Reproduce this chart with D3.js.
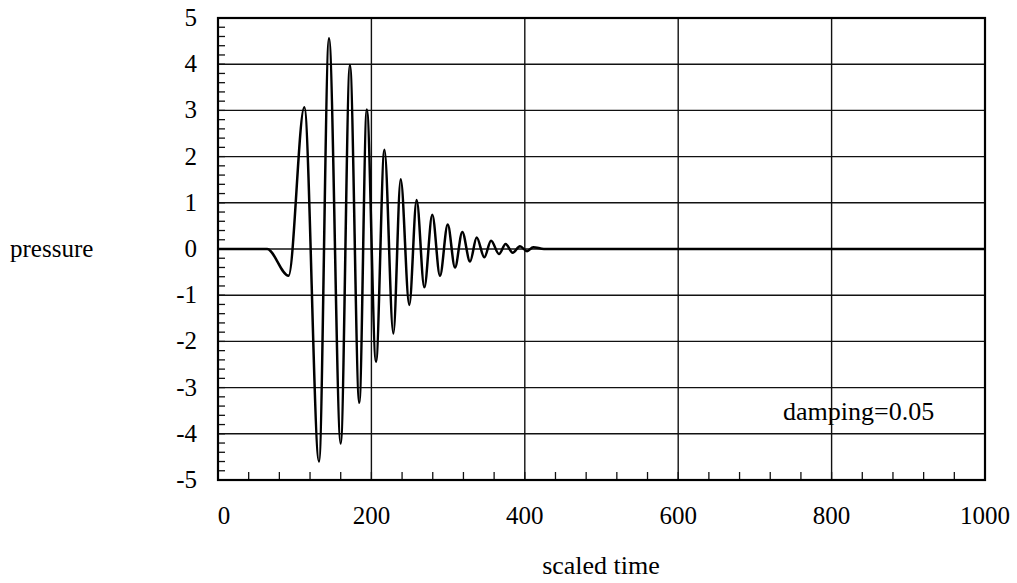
<!DOCTYPE html>
<html>
<head>
<meta charset="utf-8">
<script src="https://cdn.jsdelivr.net/npm/d3@7"></script>
<style>
  body { margin: 0; background: #fff; }
  text { font-family: "Liberation Serif", "Times New Roman", serif; fill: #000; }
</style>
</head>
<body>
<div id="chart"></div>
<script>
// values (extrema of the pressure trace)
var timeVals = [0, 64, 92, 112.5, 131.7, 144.7, 160, 172, 184.2, 194, 206, 217, 228.6, 238.2, 249.4,
  259, 269, 279.4, 289.4, 299.5, 309, 318.5, 328.6, 337.3, 347.2, 356, 366.4, 375, 384.2, 393.7, 403, 411, 425, 1000];
var pressureVals = [0, 0, -0.58, 3.07, -4.6, 4.56, -4.21, 3.98, -3.33, 3.02, -2.44, 2.15, -1.83, 1.51, -1.21,
  1.06, -0.83, 0.74, -0.58, 0.53, -0.40, 0.37, -0.27, 0.25, -0.18, 0.18, -0.11, 0.11, -0.08, 0.06, -0.05, 0.04, 0, 0];
var xTicks = [0, 200, 400, 600, 800, 1000];
var yTicks = [5, 4, 3, 2, 1, 0, -1, -2, -3, -4, -5];
var note = "damping=0.05";

var W = 1017, H = 583;
var m = {left: 218, right: 32, top: 18, bottom: 103};

var svg = d3.select("#chart").append("svg")
  .attr("width", W).attr("height", H);

var x = d3.scaleLinear().domain([0, 1000]).range([m.left, W - m.right]);
var y = d3.scaleLinear().domain([-5, 5]).range([H - m.bottom, m.top]);

// grid lines
svg.append("g").selectAll("line").data(yTicks).enter().append("line")
  .attr("x1", x(0)).attr("x2", x(1000))
  .attr("y1", function(d){ return y(d); }).attr("y2", function(d){ return y(d); })
  .style("stroke", "#111").style("stroke-width", 1.4);
svg.append("g").selectAll("line").data(xTicks).enter().append("line")
  .attr("y1", y(-5)).attr("y2", y(5))
  .attr("x1", function(d){ return x(d); }).attr("x2", function(d){ return x(d); })
  .style("stroke", "#111").style("stroke-width", 1.4);

// minor ticks, left and bottom, pointing in
var yMinor = d3.range(-50, 51, 2).map(function(v){ return v / 10; });
svg.append("g").selectAll("line").data(yMinor).enter().append("line")
  .attr("x1", x(0)).attr("x2", x(0) + 7)
  .attr("y1", function(d){ return y(d); }).attr("y2", function(d){ return y(d); })
  .style("stroke", "#111").style("stroke-width", 1.3);
var xMinor = d3.range(0, 1001, 40);
svg.append("g").selectAll("line").data(xMinor).enter().append("line")
  .attr("y1", y(-5)).attr("y2", y(-5) - 8)
  .attr("x1", function(d){ return x(d); }).attr("x2", function(d){ return x(d); })
  .style("stroke", "#111").style("stroke-width", 1.3);

// frame
svg.append("rect")
  .attr("x", x(0)).attr("y", y(5))
  .attr("width", x(1000) - x(0)).attr("height", y(-5) - y(5))
  .style("fill", "none").style("stroke", "#000").style("stroke-width", 2.2);

// the trace
var pts = timeVals.map(function(t, i){ return [t, pressureVals[i]]; });
var line = d3.line()
  .x(function(d){ return x(d[0]); })
  .y(function(d){ return y(d[1]); })
  .curve(d3.curveMonotoneX);
svg.append("path").datum(pts)
  .attr("d", line)
  .style("fill", "none").style("stroke", "#000").style("stroke-width", 2.5)
  .style("stroke-linejoin", "round");

// tick labels
svg.append("g").selectAll("text").data(yTicks).enter().append("text")
  .attr("x", x(0) - 21).attr("y", function(d){ return y(d) + 8; })
  .attr("text-anchor", "end").style("font-size", "25px")
  .text(function(d){ return d; });
svg.append("g").selectAll("text").data(xTicks).enter().append("text")
  .attr("x", function(d){ return d === 0 ? x(d) + 6 : x(d); }).attr("y", 524)
  .attr("text-anchor", "middle").style("font-size", "25px")
  .text(function(d){ return d; });

// axis titles and note
svg.append("text").attr("x", 10).attr("y", 257).style("font-size", "25px").text("pressure");
svg.append("text").attr("x", 601).attr("y", 574).attr("text-anchor", "middle")
  .style("font-size", "26px").text("scaled time");
svg.append("text").attr("x", 783).attr("y", 420).style("font-size", "26px").text(note);
</script>
</body>
</html>
